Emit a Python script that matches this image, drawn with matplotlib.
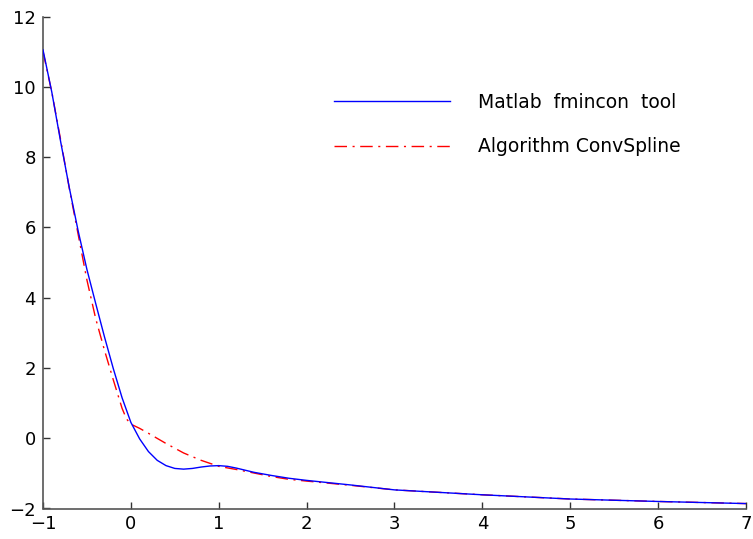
import matplotlib
matplotlib.use("Agg")
import matplotlib.pyplot as plt

plt.rcParams['font.family'] = ['DejaVu Sans']

# Data
x_fmincon = [-1.0, -0.9, -0.8, -0.7, -0.6, -0.5, -0.4, -0.3, -0.2, -0.1, 0.0,
             0.1, 0.2, 0.3, 0.4, 0.5, 0.6, 0.7, 0.8, 0.9, 1.0, 1.1, 1.2, 1.4,
             1.6, 1.8, 2.0, 2.5, 3.0, 3.5, 4.0, 5.0, 6.0, 7.0]
y_fmincon = [11.05, 9.85, 8.45, 7.12, 5.90, 4.80, 3.83, 2.88, 1.98, 1.15, 0.45,
             -0.02, -0.38, -0.63, -0.78, -0.86, -0.88, -0.86, -0.82, -0.79, -0.78, -0.80, -0.85, -0.97,
             -1.06, -1.14, -1.20, -1.33, -1.47, -1.54, -1.61, -1.73, -1.80, -1.86]

x_conv = [-1.0, -0.9, -0.8, -0.7, -0.6, -0.5, -0.4, -0.3, -0.2, -0.1, -0.05, 0.0,
          0.1, 0.2, 0.4, 0.6, 0.8, 1.0, 1.2, 1.4, 1.6, 1.8, 2.0, 2.5, 3.0, 3.5,
          4.0, 5.0, 6.0, 7.0]
y_conv = [11.0, 9.85, 8.50, 7.10, 5.80, 4.50, 3.40, 2.50, 1.66, 0.85, 0.55, 0.40,
          0.28, 0.14, -0.15, -0.42, -0.63, -0.80, -0.89, -0.99, -1.09, -1.17, -1.22, -1.34, -1.47, -1.54,
          -1.61, -1.73, -1.80, -1.86]

labels = ['Matlab  fmincon  tool', 'Algorithm ConvSpline']
x_ticks = [-1, 0, 1, 2, 3, 4, 5, 6, 7]
y_ticks = [-2, 0, 2, 4, 6, 8, 10, 12]

fig = plt.figure(figsize=(7.53, 5.39), dpi=100)
ax = fig.add_axes([43/753, 1-508.5/539, (746-43)/753, (508.5-16.5)/539])

dashdot = (0, (9, 4, 1.5, 4))
l1, = ax.plot(x_fmincon, y_fmincon, color='#0000ff', lw=1.0, label=labels[0], zorder=3)
l2, = ax.plot(x_conv, y_conv, color='#ff0000', lw=1.0, linestyle=dashdot, label=labels[1], zorder=2)

ax.set_xlim(-1, 7)
ax.set_ylim(-2, 12)
ax.set_xticks(x_ticks)
ax.set_yticks(y_ticks)
ax.set_xticklabels(['\u22121' if v == -1 else str(v) for v in x_ticks])
ax.set_yticklabels([('\u2212' + str(-v)) if v < 0 else str(v) for v in y_ticks])
ax.tick_params(direction='in', length=5, width=1, labelsize=13, color='#333333', pad=5)
for s in ['top', 'right']:
    ax.spines[s].set_visible(False)
for s in ['left', 'bottom']:
    ax.spines[s].set_color('#555555')
    ax.spines[s].set_linewidth(1.2)

leg = ax.legend(handles=[l1, l2], loc='upper left',
                bbox_to_anchor=(334/753, 1-93/539), bbox_transform=fig.transFigure,
                frameon=False, fontsize=13.5, handlelength=6.2, handletextpad=1.5,
                labelspacing=1.35, borderpad=0, borderaxespad=0)

fig.savefig('out.png', dpi=100)
